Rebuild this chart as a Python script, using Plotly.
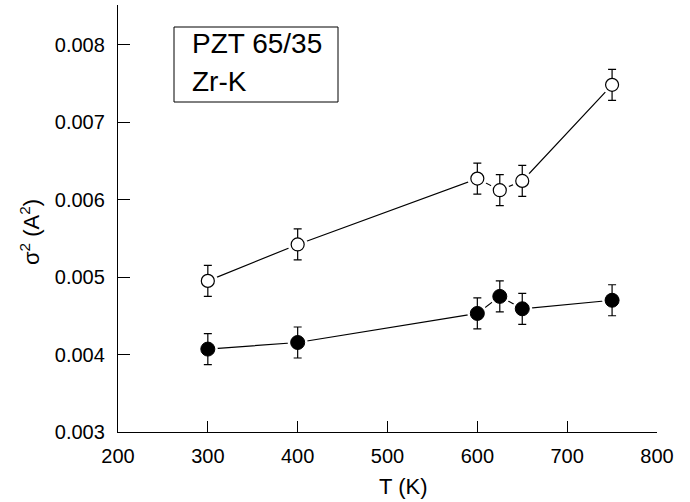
import plotly.graph_objects as go

T = [300, 400, 600, 625, 650, 750]
sigma_open = [0.00495, 0.00542, 0.00627, 0.00612, 0.00624, 0.00748]
sigma_filled = [0.00407, 0.004155, 0.00453, 0.00475, 0.00459, 0.00470]
err_open = [0.0002, 0.0002, 0.0002, 0.0002, 0.0002, 0.0002]
err_filled = [0.0002, 0.0002, 0.0002, 0.0002, 0.0002, 0.0002]
xticks = [200, 300, 400, 500, 600, 700, 800]
yticks = [0.003, 0.004, 0.005, 0.006, 0.007, 0.008]

FONT = "Liberation Sans, Arial, sans-serif"
L, R, TOP, BOT = 118, 657, 5, 432
PW, PH = R - L, BOT - TOP


def px(x):
    return (x - L) / PW


def py(y):
    return (BOT - y) / PH


fig = go.Figure()

for ys in (sigma_open, sigma_filled):
    fig.add_trace(go.Scatter(x=T, y=ys, mode="lines",
                             line=dict(color="black", width=1.2),
                             showlegend=False, hoverinfo="skip"))
for ys in (sigma_open, sigma_filled):
    fig.add_trace(go.Scatter(x=T, y=ys, mode="markers",
                             marker=dict(symbol="circle", size=20, color="white",
                                         line=dict(width=0)),
                             showlegend=False, hoverinfo="skip"))

fig.add_trace(go.Scatter(x=T, y=sigma_open, mode="markers",
                         marker=dict(symbol="circle", size=13, color="white",
                                     line=dict(color="black", width=1.2)),
                         error_y=dict(type="data", array=err_open, color="black",
                                      thickness=1.2, width=4),
                         showlegend=False))
fig.add_trace(go.Scatter(x=T, y=sigma_filled, mode="markers",
                         marker=dict(symbol="circle", size=14, color="black",
                                     line=dict(color="black", width=1)),
                         error_y=dict(type="data", array=err_filled, color="black",
                                      thickness=1.2, width=4),
                         showlegend=False))

fig.update_layout(
    width=690, height=502,
    margin=dict(l=L, r=690 - R, t=TOP, b=502 - BOT),
    paper_bgcolor="white", plot_bgcolor="white",
    font=dict(family=FONT, size=20, color="black"),
    xaxis=dict(range=[200, 800], tickvals=xticks, ticktext=[str(v) for v in xticks],
               showline=True, linecolor="black", linewidth=1.3,
               ticks="inside", ticklen=11, tickwidth=1.2, tickcolor="black",
               ticklabelstandoff=6,
               showgrid=False, zeroline=False),
    yaxis=dict(range=[0.003, 0.00851], tickvals=yticks,
               ticktext=[f"{v:.3f}" for v in yticks],
               showline=True, linecolor="black", linewidth=1.3,
               ticks="inside", ticklen=12, tickwidth=1.2, tickcolor="black",
               ticklabelstandoff=8,
               showgrid=False, zeroline=False),
    shapes=[dict(type="rect", xref="paper", yref="paper",
                 x0=px(174), x1=px(338), y0=py(102), y1=py(27),
                 line=dict(color="black", width=1), fillcolor="white")],
    annotations=[
        dict(text="T (K)", xref="paper", yref="paper", x=px(403), y=py(487),
             xanchor="center", yanchor="middle", showarrow=False,
             font=dict(family=FONT, size=22, color="black")),
        dict(text="σ<sup>2</sup> (A<sup>2</sup>)", xref="paper", yref="paper",
             x=px(30), y=py(232), textangle=-90,
             xanchor="center", yanchor="middle", showarrow=False,
             font=dict(family=FONT, size=22, color="black")),
        dict(text="PZT 65/35", xref="paper", yref="paper", x=px(190),
             y=py(44), xanchor="left", yanchor="middle", showarrow=False,
             font=dict(family=FONT, size=28, color="black")),
        dict(text="Zr-K", xref="paper", yref="paper", x=px(190),
             y=py(82), xanchor="left", yanchor="middle", showarrow=False,
             font=dict(family=FONT, size=28, color="black")),
    ],
)

fig.write_html("out.html",
               config={"displayModeBar": False},
               post_script="document.body.style.margin='0px';"
                           "document.body.style.overflow='hidden';")
